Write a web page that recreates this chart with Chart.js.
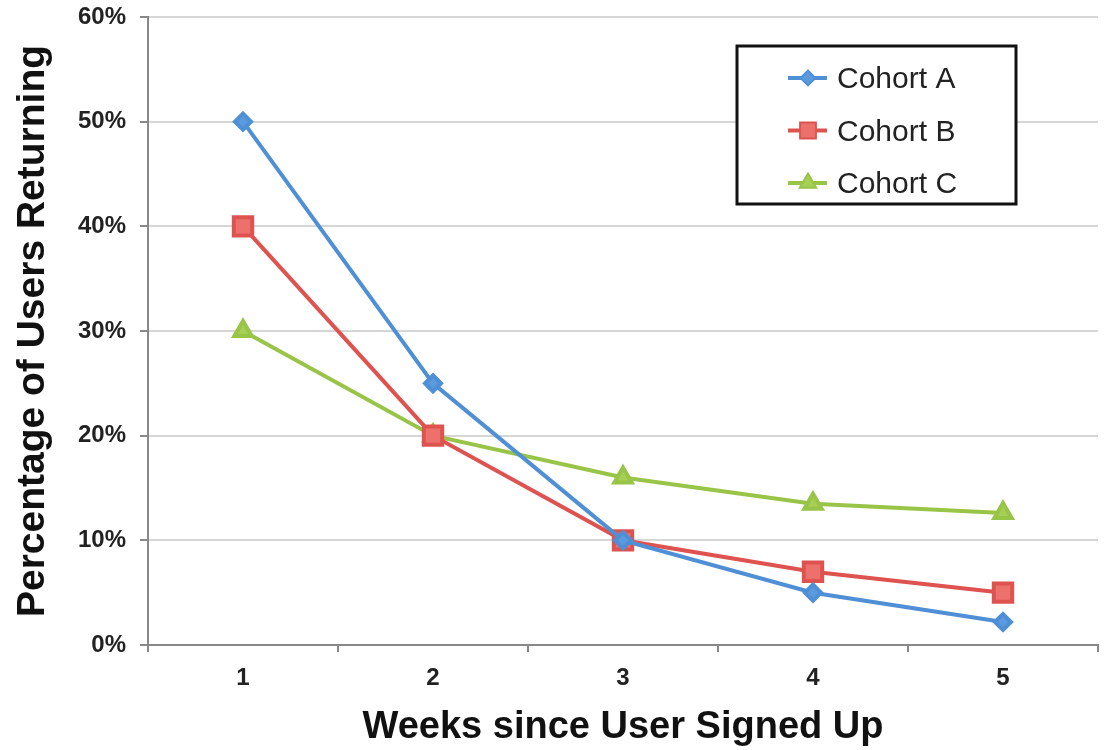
<!DOCTYPE html>
<html>
<head>
<meta charset="utf-8">
<script src="https://cdn.jsdelivr.net/npm/chart.js@4/dist/chart.umd.min.js"></script>
<style>
  html,body{margin:0;padding:0;background:#fff;}
  #wrap{width:1115px;height:750px;position:relative;}
</style>
</head>
<body>
<div id="wrap"><canvas id="myChart" width="1115" height="750"></canvas></div>
<script>
//-------------------- data -------------------
const weeks=['1','2','3','4','5'];
const cohortA=[50,25,10,5,2.2];
const cohortB=[40,20,10,7,5];
const cohortC=[30,20,16,13.5,12.6];
const yTicks=[0,10,20,30,40,50,60];

const FONT="'Liberation Sans', Arial, Helvetica, sans-serif";

// legend drawn as a boxed panel in the upper right, like the original
const boxedLegend={
  id:'boxedLegend',
  afterDraw(chart){
    const c=chart.ctx;
    const x=737,y=46,w=279,h=158;
    c.save();
    c.fillStyle='#fff';
    c.fillRect(x,y,w,h);
    c.strokeStyle='#111';
    c.lineWidth=3;
    c.strokeRect(x,y,w,h);
    chart.data.datasets.forEach((ds,i)=>{
      const cy=y+32+i*52.5;
      c.strokeStyle=ds.borderColor;
      c.lineWidth=4;
      c.beginPath();
      c.moveTo(788,cy);
      c.lineTo(827,cy);
      c.stroke();
      Chart.helpers.drawPoint(c,{
        pointStyle:ds.pointStyle,
        radius:ds.pointRadius*0.75,
        borderWidth:1
      },808,cy);
      c.fillStyle=ds.pointBackgroundColor;
      c.strokeStyle=ds.borderColor;
      c.fill();
      c.fillStyle='#222';
      c.font='30px '+FONT;
      c.textBaseline='middle';
      c.fillText(ds.label,837,cy+2);
    });
    c.restore();
  }
};

const ctx=document.getElementById('myChart');
const chart=new Chart(ctx,{
  type:'line',
  data:{
    labels:weeks,
    datasets:[
      {label:'Cohort A',data:cohortA,borderColor:'#4f8fd6',backgroundColor:'#5c9ade',
        pointBackgroundColor:'#5c9ade',pointBorderColor:'#4f8fd6',pointStyle:'rectRot',pointRadius:8,borderWidth:4},
      {label:'Cohort B',data:cohortB,borderColor:'#de534f',backgroundColor:'#ec716d',
        pointBackgroundColor:'#ec716d',pointBorderColor:'#de534f',pointStyle:'rect',pointRadius:13,borderWidth:4},
      {label:'Cohort C',data:cohortC,borderColor:'#98c447',backgroundColor:'#a6cf55',
        pointBackgroundColor:'#a6cf55',pointBorderColor:'#98c447',pointStyle:'triangle',pointRadius:10,borderWidth:4}
    ]
  },
  options:{
    responsive:false,
    animation:false,
    layout:{padding:{left:0,right:13,top:0,bottom:0}},
    plugins:{
      legend:{display:false},
      tooltip:{enabled:false}
    },
    elements:{line:{tension:0},point:{borderWidth:1}},
    scales:{
      x:{
        offset:true,
        grid:{offset:true,drawOnChartArea:false,drawTicks:true,tickLength:7,color:'#888',lineWidth:2},
        border:{color:'#888',width:2},
        ticks:{color:'#222',padding:12,font:{family:FONT,size:24,weight:'bold'}},
        title:{display:true,text:'Weeks since User Signed Up',color:'#111',padding:{top:4,bottom:0},
          font:{family:FONT,size:38,weight:'bold'}},
        afterFit(scale){scale.height=105;}
      },
      y:{
        min:0,max:60,
        afterBuildTicks(scale){scale.ticks=yTicks.map(v=>({value:v}));},
        grid:{color:'#d6d6d6',lineWidth:2,tickLength:8,tickColor:'#888'},
        border:{color:'#888',width:2},
        ticks:{color:'#222',padding:14,callback:v=>v+'%',font:{family:FONT,size:24,weight:'bold'}},
        title:{display:true,text:'Percentage of Users Returning',color:'#111',padding:{top:10,bottom:6},
          font:{family:FONT,size:39,weight:'bold'}},
        afterFit(scale){scale.width=148;scale.paddingTop=17;}
      }
    }
  },
  plugins:[boxedLegend]
});
</script>
</body>
</html>
